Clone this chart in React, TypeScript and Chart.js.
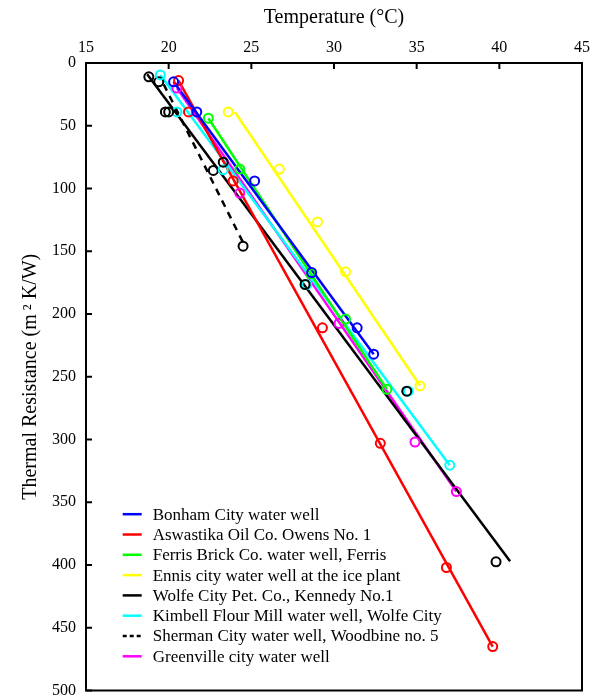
import React, { useEffect, useRef } from "react";
import { Chart, registerables } from "chart.js";

Chart.register(...registerables);

// ---- Data (Temperature °C, Thermal Resistance m² K/W) ----
const seriesNames = [
  "Bonham City water well",
  "Aswastika Oil Co. Owens No. 1",
  "Ferris Brick Co. water well, Ferris",
  "Ennis city water well at the ice plant",
  "Wolfe City Pet. Co., Kennedy No.1",
  "Kimbell Flour Mill water well, Wolfe City",
  "Sherman City water well, Woodbine no. 5",
  "Greenville city water well",
];
const seriesColors = ["#0000ff", "#ff0000", "#00ff00", "#ffff00", "#000000", "#00ffff", "#000000", "#ff00ff"];
const seriesDashed = [false, false, false, false, false, false, true, false];

const bonhamT = [20.3, 21.7, 25.2, 28.65, 31.4, 32.4];
const bonhamR = [15, 39, 94, 167, 211, 232];
const aswastikaT = [20.6, 21.2, 23.9, 29.3, 32.8, 36.8, 39.6];
const aswastikaR = [14, 39, 94, 211, 303, 402, 465];
const ferrisT = [22.4, 24.3, 28.6, 30.7, 33.2];
const ferrisR = [44, 84.5, 168, 204, 260];
const ennisT = [23.6, 26.7, 29.0, 30.7, 35.2];
const ennisR = [39, 84.5, 126.6, 166.4, 257.3];
const wolfeT = [18.8, 20.0, 23.3, 28.25, 34.4, 39.8];
const wolfeR = [11, 39, 79, 176.5, 261.5, 397.5];
const kimbellT = [19.5, 20.5, 23.3, 28.35, 34.5, 37.0];
const kimbellR = [9.5, 39, 85, 176.5, 261.5, 320.5];
const shermanT = [19.4, 19.8, 22.7, 24.5];
const shermanR = [15, 39, 85.6, 146];
const greenvilleT = [20.5, 24.3, 30.3, 34.9, 37.4];
const greenvilleR = [20, 103.6, 207.5, 302, 341.5];

// fitted line end points
const bonhamFitT = [20.3, 32.4];
const bonhamFitR = [15, 232];
const aswastikaFitT = [20.6, 39.6];
const aswastikaFitR = [14, 465];
const ferrisFitT = [22.4, 33.2];
const ferrisFitR = [44, 260];
const ennisFitT = [24.0, 35.2];
const ennisFitR = [39, 257];
const wolfeFitT = [18.7, 40.65];
const wolfeFitR = [9, 397];
const kimbellFitT = [19.5, 37.0];
const kimbellFitR = [9.5, 320.5];
const shermanFitT = [19.7, 24.5];
const shermanFitR = [17, 143];
const greenvilleFitT = [20.5, 37.4];
const greenvilleFitR = [20, 341.5];

const xTicks = [15, 20, 25, 30, 35, 40, 45];
const yTicks = [0, 50, 100, 150, 200, 250, 300, 350, 400, 450, 500];

const pointSets = [
  [bonhamT, bonhamR],
  [aswastikaT, aswastikaR],
  [ferrisT, ferrisR],
  [ennisT, ennisR],
  [wolfeT, wolfeR],
  [kimbellT, kimbellR],
  [shermanT, shermanR],
  [greenvilleT, greenvilleR],
];
const fitSets = [
  [bonhamFitT, bonhamFitR],
  [aswastikaFitT, aswastikaFitR],
  [ferrisFitT, ferrisFitR],
  [ennisFitT, ennisFitR],
  [wolfeFitT, wolfeFitR],
  [kimbellFitT, kimbellFitR],
  [shermanFitT, shermanFitR],
  [greenvilleFitT, greenvilleFitR],
];

const FONT = '"Liberation Serif", "Times New Roman", serif';

const zip = (xs: number[], ys: number[]) => xs.map((x, i) => ({ x, y: ys[i] }));

const framePlugin = {
  id: "frame",
  afterDraw(chart: any) {
    const { ctx, chartArea } = chart;
    const { left, right, top, bottom } = chartArea;
    const xs = chart.scales.x;
    const ys = chart.scales.y;
    ctx.save();
    ctx.strokeStyle = "#000";
    ctx.lineWidth = 2;
    ctx.setLineDash([]);
    ctx.strokeRect(left, top, right - left, bottom - top);
    ctx.beginPath();
    xTicks.forEach((v) => {
      const px = xs.getPixelForValue(v);
      ctx.moveTo(px, top);
      ctx.lineTo(px, top + 6);
    });
    yTicks.forEach((v) => {
      const py = ys.getPixelForValue(v);
      ctx.moveTo(left, py);
      ctx.lineTo(left + 6, py);
    });
    ctx.stroke();

    // legend
    ctx.font = `17px ${FONT}`;
    ctx.textBaseline = "middle";
    ctx.textAlign = "left";
    const lx0 = left + 36.7;
    const ly0 = bottom - 176.3;
    seriesNames.forEach((name, i) => {
      const y = ly0 + i * 20.3;
      ctx.strokeStyle = seriesColors[i];
      ctx.lineWidth = 2.5;
      ctx.setLineDash(seriesDashed[i] ? [4, 3] : []);
      ctx.beginPath();
      ctx.moveTo(lx0, y);
      ctx.lineTo(lx0 + 19, y);
      ctx.stroke();
      ctx.setLineDash([]);
      ctx.fillStyle = "#000";
      ctx.fillText(name, lx0 + 30, y + 1);
    });
    ctx.restore();
  },
};

export default function App() {
  const ref = useRef<HTMLCanvasElement>(null);
  useEffect(() => {
    if (!ref.current) return;
    const lineDatasets = fitSets.map(([t, r], i) => ({
      label: seriesNames[i],
      data: zip(t, r),
      showLine: true,
      borderColor: seriesColors[i],
      borderWidth: 2.5,
      borderDash: seriesDashed[i] ? [7, 6] : [],
      pointRadius: 0,
      fill: false,
      order: 2,
    }));
    const pointDatasets = pointSets.map(([t, r], i) => ({
      label: seriesNames[i] + " data",
      data: zip(t, r),
      showLine: false,
      pointRadius: 4.5,
      pointBorderWidth: 2,
      pointBorderColor: seriesColors[i],
      pointBackgroundColor: "rgba(0,0,0,0)",
      borderColor: seriesColors[i],
      backgroundColor: "rgba(0,0,0,0)",
      order: 1,
    }));
    const chart = new Chart(ref.current, {
      type: "scatter",
      data: { datasets: [...lineDatasets, ...pointDatasets] as any },
      options: {
        animation: false,
        responsive: false,
        maintainAspectRatio: false,
        layout: { padding: { left: 0, top: 0, right: 11, bottom: 5 } },
        plugins: { legend: { display: false }, tooltip: { enabled: false } },
        scales: {
          x: {
            type: "linear",
            position: "top",
            min: 15,
            max: 45,
            afterBuildTicks: (s: any) => {
              s.ticks = xTicks.map((v) => ({ value: v }));
            },
            afterFit: (s: any) => {
              s.height = 63;
              s.paddingLeft = 0;
              s.paddingRight = 0;
            },
            grid: { display: false, drawTicks: false },
            border: { display: false },
            ticks: { color: "#000", font: { family: FONT, size: 16 }, padding: 6, maxRotation: 0 },
            title: {
              display: true,
              text: "Temperature (°C)",
              color: "#000",
              font: { family: FONT, size: 20 },
              padding: { top: 6, bottom: 0 },
            },
          },
          y: {
            type: "linear",
            reverse: true,
            min: 0,
            max: 500,
            afterBuildTicks: (s: any) => {
              s.ticks = yTicks.map((v) => ({ value: v }));
            },
            afterFit: (s: any) => {
              s.width = 86;
              s.paddingTop = 0;
              s.paddingBottom = 0;
            },
            grid: { display: false, drawTicks: false },
            border: { display: false },
            ticks: { color: "#000", font: { family: FONT, size: 16 }, padding: 10 },
            title: {
              display: true,
              text: "Thermal Resistance (m\u2009² K/W)",
              color: "#000",
              font: { family: FONT, size: 20 },
              padding: { top: 19, bottom: 0 },
            },
          },
        },
      },
      plugins: [framePlugin],
    });
    return () => chart.destroy();
  }, []);
  return (
    <div style={{ position: "absolute", left: 0, top: 0, width: 593, height: 697, background: "#fff" }}>
      <canvas ref={ref} width={593} height={697} style={{ display: "block" }} />
    </div>
  );
}
